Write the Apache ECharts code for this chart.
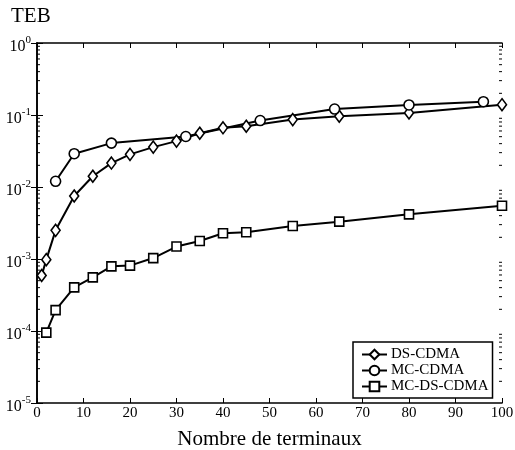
<!DOCTYPE html>
<html>
<head>
<meta charset="utf-8">
<script src="https://cdn.jsdelivr.net/npm/echarts@6/dist/echarts.min.js"></script>
<style>
  html, body { margin: 0; padding: 0; background: #fff; }
  #chart { width: 515px; height: 450px; }
</style>
</head>
<body>
<div id="chart"></div>
<script>
// nombre de terminaux / TEB
const dsX = [1, 2, 4, 8, 12, 16, 20, 25, 30, 35, 40, 45, 55, 65, 80, 100];
const dsY = [5.9e-4, 9.8e-4, 2.5e-3, 7.5e-3, 0.0141, 0.0215, 0.0284, 0.0358, 0.0434, 0.0558, 0.0664, 0.0698, 0.0864, 0.096, 0.107, 0.139];

const mcX = [4, 8, 16, 32, 48, 64, 80, 96];
const mcY = [0.012, 0.029, 0.0407, 0.0503, 0.0837, 0.121, 0.138, 0.153];

const mcdsX = [2, 4, 8, 12, 16, 20, 25, 30, 35, 40, 45, 55, 65, 80, 100];
const mcdsY = [9.5e-5, 1.95e-4, 4.04e-4, 5.56e-4, 7.9e-4, 8.1e-4, 1.03e-3, 1.49e-3, 1.78e-3, 2.28e-3, 2.35e-3, 2.87e-3, 3.30e-3, 4.17e-3, 5.48e-3];

const seriesNames = ['DS-CDMA', 'MC-CDMA', 'MC-DS-CDMA'];

// graduations secondaires 2..9 x 10^k
const minorTicks = [];
for (let k = -5; k < 0; k++) {
    for (let m = 2; m <= 9; m++) minorTicks.push(m * Math.pow(10, k));
}

const FONT = '"Liberation Serif", "DejaVu Serif", serif';

function pairs(xs, ys) {
    return xs.map((x, i) => [x, ys[i]]);
}

const chart = echarts.init(document.getElementById('chart'));

const markStyle = {
    color: '#fff',
    borderColor: '#000',
    borderWidth: 1.6
};

chart.setOption({
    animation: false,
    backgroundColor: '#fff',
    title: {
        text: 'TEB',
        left: 6,
        top: 1,
        textStyle: { fontFamily: FONT, fontSize: 21, fontWeight: 'normal', color: '#000' }
    },
    grid: { left: 37, right: 13, top: 43, bottom: 47, containLabel: false, outerBoundsMode: 'none' },
    legend: {
        data: seriesNames,
        orient: 'vertical',
        left: 353,
        top: 342,
        itemWidth: 25,
        itemHeight: 12,
        itemGap: 1,
        padding: [5, 4, 4, 8],
        backgroundColor: '#fff',
        borderColor: '#000',
        borderWidth: 1.5,
        borderRadius: 0,
        textStyle: { fontFamily: FONT, fontSize: 15, color: '#000', padding: [0, 0, 0, -1] }
    },
    xAxis: [{
        type: 'value',
        min: 0,
        max: 100,
        interval: 10,
        position: 'bottom',
        name: 'Nombre de terminaux',
        nameLocation: 'middle',
        nameGap: 26,
        nameTextStyle: { fontFamily: FONT, fontSize: 21, color: '#000' },
        axisLine: { show: true, lineStyle: { color: '#000', width: 1.6 } },
        axisTick: { show: true, inside: true, length: 5, lineStyle: { color: '#000', width: 1 } },
        axisLabel: { fontFamily: FONT, fontSize: 15, color: '#000', margin: 3 },
        splitLine: { show: false }
    }, {
        type: 'value',
        min: 0,
        max: 100,
        interval: 10,
        position: 'top',
        axisLine: { show: true, lineStyle: { color: '#000', width: 1.6 } },
        axisTick: { show: true, inside: true, length: 5, lineStyle: { color: '#000', width: 1 } },
        axisLabel: { show: false },
        splitLine: { show: false }
    }],
    yAxis: [{
        type: 'log',
        logBase: 10,
        min: 1e-5,
        max: 1,
        interval: 1,
        position: 'left',
        axisLine: { show: true, lineStyle: { color: '#000', width: 1.6 } },
        axisTick: { show: true, inside: true, length: 6, lineStyle: { color: '#000', width: 1 } },
        axisLabel: {
            margin: 6,
            formatter: function (v) {
                const e = Math.round(Math.log10(v));
                return '{b|10}{s|' + e + '}';
            },
            rich: {
                b: { fontFamily: FONT, fontSize: 16, color: '#000', padding: [7, 0, 0, 0] },
                s: { fontFamily: FONT, fontSize: 11, color: '#000', padding: [0, 0, 5, 0] }
            }
        },
        splitLine: { show: false }
    }, {
        type: 'log',
        logBase: 10,
        min: 1e-5,
        max: 1,
        interval: 1,
        position: 'right',
        axisLine: { show: true, lineStyle: { color: '#000', width: 1.6 } },
        axisTick: { show: true, inside: true, length: 6, lineStyle: { color: '#000', width: 1 } },
        axisLabel: { show: false },
        splitLine: { show: false }
    }],
    series: [{
        type: 'custom',
        name: 'minor',
        silent: true,
        clip: false,
        xAxisIndex: 0,
        yAxisIndex: 0,
        data: minorTicks.map(v => [0, v]),
        renderItem: function (params, api) {
            const l = api.coord([0, api.value(1)]);
            const r = api.coord([100, api.value(1)]);
            const st = { stroke: '#000', lineWidth: 1 };
            return {
                type: 'group',
                children: [
                    { type: 'line', shape: { x1: l[0], y1: l[1], x2: l[0] + 3, y2: l[1] }, style: st },
                    { type: 'line', shape: { x1: r[0], y1: r[1], x2: r[0] - 3, y2: r[1] }, style: st }
                ]
            };
        }
    }, {
        name: seriesNames[0],
        type: 'line',
        data: pairs(dsX, dsY),
        symbol: 'diamond',
        symbolSize: [9, 12],
        lineStyle: { color: '#000', width: 2 },
        itemStyle: markStyle,
        z: 3
    }, {
        name: seriesNames[1],
        type: 'line',
        data: pairs(mcX, mcY),
        symbol: 'circle',
        symbolSize: 10,
        lineStyle: { color: '#000', width: 2 },
        itemStyle: markStyle,
        z: 3
    }, {
        name: seriesNames[2],
        type: 'line',
        data: pairs(mcdsX, mcdsY),
        symbol: 'rect',
        symbolSize: 9,
        lineStyle: { color: '#000', width: 2 },
        itemStyle: markStyle,
        z: 3
    }]
});
</script>
</body>
</html>
